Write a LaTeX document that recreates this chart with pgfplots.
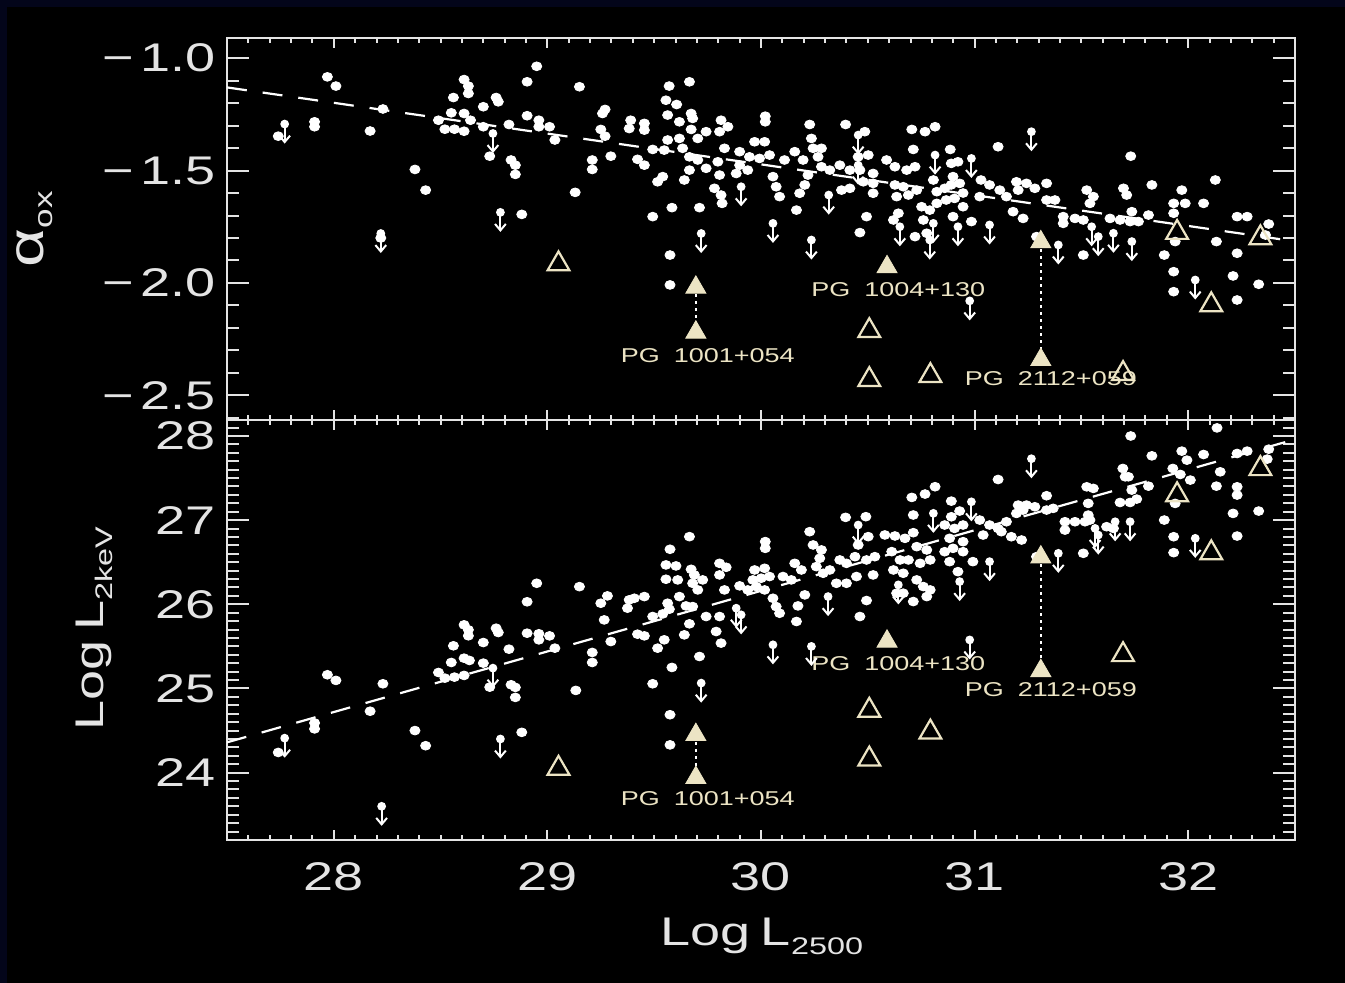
\documentclass[border=0pt]{standalone}
\usepackage{fontspec}
\usepackage{pgfplots}
\pgfplotsset{compat=1.18}
\setmainfont{Liberation Sans}
\newfontfamily\idl[FakeStretch=1.35]{Liberation Sans}
\definecolor{cream}{RGB}{236,228,196}
\definecolor{navy}{RGB}{3,5,26}
\definecolor{axgray}{RGB}{228,228,228}

\pgfdeclareplotmark{ul}{%
  \pgfpathcircle{\pgfpointorigin}{2.2pt}\pgfusepathqfill
  \pgfsetlinewidth{1pt}%
  \pgfpathmoveto{\pgfpointorigin}\pgfpathlineto{\pgfpoint{0pt}{-9pt}}\pgfusepathqstroke
  \pgfpathmoveto{\pgfpoint{-2.7pt}{-5.8pt}}\pgfpathlineto{\pgfpoint{0pt}{-9pt}}\pgfpathlineto{\pgfpoint{2.7pt}{-5.8pt}}\pgfusepathqstroke
}

\pgfplotsset{
  panel/.style={scale only axis, width=534pt, anchor=south west,
    xmin=27.5, xmax=32.5,
    axis line style={axgray, line width=1pt},
    every tick/.style={axgray, line width=1pt},
    every minor tick/.style={axgray, line width=1pt},
    every tick label/.append style={text=axgray, font=\idl\fontsize{20}{20}\selectfont},
    yticklabel style={xshift=-2pt},
    xticklabel style={yshift=-8pt}},
  xonly/.style={ytick=\empty, xtick={28,29,30,31,32},
    minor xtick={27.6,27.7,...,32.45},
    major tick length=5pt, minor tick length=2.5pt},
  yonly/.style={xtick=\empty, major tick length=11pt, minor tick length=6pt},
  dots/.style={only marks, mark=*, mark size=2.2pt, white, mark options={draw=white, fill=white, xscale=1.15}},
  uls/.style={only marks, mark=ul, white, mark options={draw=white, fill=white}},
  otri/.style={only marks, mark=triangle, mark size=6.3pt, cream, mark options={line width=1.1pt, draw=cream}},
  ftri/.style={only marks, mark=triangle*, mark size=5.8pt, cream, mark options={draw=cream, fill=cream}},
  fit/.style={white, line width=1.1pt, dash pattern=on 10pt off 8pt},
  conn/.style={white, line width=1pt, dash pattern=on 1.5pt off 2pt},
}

\begin{document}
\begin{tikzpicture}
\fill[navy] (0,0) rectangle (672.5pt,491.5pt);
\fill[black] (3.5pt,0) rectangle (672.5pt,488pt);

% ---------------- top panel: x ticks
\begin{axis}[panel, xonly, at={(113.5pt,281.5pt)}, height=191pt,
  ymin=-2.61, ymax=-0.91, xticklabels={,,,,}]
\end{axis}
% ---------------- top panel: data + y ticks
\begin{axis}[panel, yonly, at={(113.5pt,281.5pt)}, height=191pt,
  ymin=-2.61, ymax=-0.91,
  ytick={-2.5,-2,-1.5,-1},
  yticklabels={−\,2.5,−\,2.0,−\,1.5,−\,1.0},
  minor ytick={-2.6,-2.4,-2.3,-2.2,-2.1,-1.9,-1.8,-1.7,-1.6,-1.4,-1.3,-1.2,-1.1}]
\addplot[fit] coordinates {(27.5,-1.130) (32.5,-1.815)};
\addplot[dots] table {
x y
27.74 -1.347
27.97 -1.083
28.01 -1.124
27.91 -1.283
27.91 -1.305
28.17 -1.324
28.23 -1.226
28.38 -1.495
28.43 -1.587
28.22 -1.80
28.61 -1.095
28.63 -1.124
28.63 -1.157
28.56 -1.175
28.55 -1.243
28.61 -1.246
28.64 -1.276
28.49 -1.276
28.52 -1.316
28.565 -1.316
28.61 -1.325
28.70 -1.216
28.76 -1.175
28.77 -1.194
28.70 -1.305
28.73 -1.436
28.82 -1.295
28.83 -1.453
28.85 -1.476
28.85 -1.517
28.88 -1.695
28.95 -1.036
28.905 -1.105
28.905 -1.256
28.96 -1.276
28.96 -1.305
29.01 -1.305
29.035 -1.364
29.15 -1.127
29.13 -1.597
29.57 -1.124
29.665 -1.105
29.555 -1.187
29.605 -1.206
29.27 -1.228
29.258 -1.246
29.25 -1.317
29.27 -1.347
29.21 -1.453
29.21 -1.495
29.297 -1.436
29.39 -1.276
29.383 -1.313
29.454 -1.29
29.454 -1.32
29.563 -1.253
29.618 -1.283
29.673 -1.246
29.68 -1.268
29.673 -1.317
29.704 -1.357
29.743 -1.327
29.813 -1.276
29.845 -1.305
29.806 -1.327
29.563 -1.364
29.618 -1.357
29.422 -1.45
29.454 -1.476
29.493 -1.406
29.547 -1.409
29.54 -1.527
29.516 -1.55
29.633 -1.401
29.665 -1.439
29.704 -1.453
29.641 -1.542
29.665 -1.498
29.743 -1.49
29.798 -1.461
29.829 -1.401
29.806 -1.52
29.782 -1.579
29.813 -1.609
29.818 -1.646
29.493 -1.705
29.583 -1.665
29.712 -1.665
29.574 -1.876
29.574 -2.009
29.9 -1.416
29.97 -1.372
30.02 -1.258
30.02 -1.283
30.017 -1.372
29.946 -1.439
29.993 -1.446
30.04 -1.431
29.9 -1.476
29.938 -1.498
29.884 -1.513
30.056 -1.527
30.071 -1.572
30.087 -1.616
30.11 -1.453
30.158 -1.416
30.197 -1.453
30.166 -1.676
30.181 -1.601
30.205 -1.564
30.228 -1.295
30.236 -1.357
30.244 -1.401
30.283 -1.401
30.267 -1.439
30.22 -1.52
30.283 -1.483
30.322 -1.498
30.369 -1.476
30.396 -1.295
30.486 -1.327
30.455 -1.439
30.502 -1.431
30.416 -1.498
30.463 -1.498
30.377 -1.587
30.416 -1.579
30.479 -1.55
30.525 -1.557
30.525 -1.601
30.525 -1.513
30.494 -1.705
30.463 -1.776
30.588 -1.453
30.627 -1.483
30.682 -1.498
30.721 -1.483
30.706 -1.317
30.768 -1.327
30.815 -1.305
30.713 -1.406
30.807 -1.542
30.627 -1.564
30.666 -1.572
30.635 -1.616
30.69 -1.609
30.62 -1.72
30.643 -1.69
30.752 -1.661
30.79 -1.676
30.76 -1.72
30.776 -1.779
30.721 -1.794
30.823 -1.594
30.823 -1.646
30.729 -1.587
31.11 -1.394
30.886 -1.406
30.891 -1.468
30.922 -1.461
30.899 -1.527
30.86 -1.579
30.89 -1.564
30.93 -1.557
30.867 -1.631
30.906 -1.624
30.946 -1.6
30.946 -1.661
30.899 -1.705
30.985 -1.727
31.03 -1.542
31.07 -1.564
31.024 -1.616
31.118 -1.587
31.149 -1.616
31.196 -1.55
31.204 -1.587
31.243 -1.557
31.282 -1.579
31.337 -1.557
31.337 -1.631
31.376 -1.631
31.18 -1.683
31.227 -1.713
31.29 -1.794
31.415 -1.705
31.415 -1.735
31.47 -1.713
31.525 -1.587
31.556 -1.616
31.54 -1.646
31.509 -1.72
31.509 -1.876
31.634 -1.713
31.681 -1.72
31.697 -1.579
31.712 -1.609
31.736 -1.683
31.728 -1.727
31.767 -1.727
31.814 -1.698
31.731 -1.436
31.83 -1.564
31.888 -1.876
31.932 -1.646
31.932 -1.69
31.986 -1.646
31.97 -1.587
31.932 -1.95
31.932 -2.039
31.939 -1.816
32.072 -1.646
32.127 -1.542
32.132 -1.816
32.229 -1.705
32.276 -1.705
32.229 -1.868
32.21 -1.969
32.229 -2.076
32.33 -2.006
32.377 -1.738
32.362 -1.787
};
\addplot[uls] table {
x y
27.77 -1.293
28.22 -1.78
28.745 -1.335
28.78 -1.686
29.72 -1.78
29.907 -1.572
30.056 -1.735
30.236 -1.809
30.317 -1.609
30.455 -1.342
30.455 -1.476
30.815 -1.431
30.65 -1.75
30.807 -1.735
30.79 -1.809
31.266 -1.327
30.985 -1.446
30.922 -1.75
31.07 -1.742
31.392 -1.831
31.548 -1.75
31.579 -1.794
31.65 -1.779
31.736 -1.816
32.033 -1.987
30.977 -2.08
};
\addplot[conn] coordinates {(29.695,-2.02) (29.695,-2.22)};
\addplot[conn] coordinates {(31.31,-1.818) (31.31,-2.342)};
\addplot[otri] table {
x y
29.052 -1.916
30.507 -2.213
30.507 -2.431
30.793 -2.413
31.695 -2.404
31.948 -1.776
32.108 -2.098
32.338 -1.80
};
\addplot[ftri] table {
x y
29.695 -2.02
29.695 -2.22
30.59 -1.929
31.31 -1.818
31.31 -2.342
};
\node[text=cream, font=\idl\fontsize{10}{10}\selectfont] at (axis cs:29.751,-2.324) {PG\hspace{7pt}1001+054};
\node[text=cream, font=\idl\fontsize{10}{10}\selectfont] at (axis cs:30.643,-2.031) {PG\hspace{7pt}1004+130};
\node[text=cream, font=\idl\fontsize{10}{10}\selectfont] at (axis cs:31.357,-2.427) {PG\hspace{7pt}2112+059};
\end{axis}

% ---------------- bottom panel: x ticks
\begin{axis}[panel, xonly, at={(113.5pt,71.5pt)}, height=210pt,
  ymin=23.2, ymax=28.19, xticklabels={28,29,30,31,32}]
\end{axis}
% ---------------- bottom panel: data + y ticks
\begin{axis}[panel, yonly, at={(113.5pt,71.5pt)}, height=210pt,
  ymin=23.2, ymax=28.19,
  ytick={24,25,26,27,28},
  yticklabels={24,25,26,27,28},
  minor ytick={23.3,23.4,...,28.15}]
\addplot[fit] coordinates {(27.5,24.36) (32.5,27.96)};
\addplot[dots] table {
x y
27.74 24.24
27.97 25.163
28.01 25.096
27.91 24.59
27.91 24.52
28.17 24.73
28.23 25.056
28.38 24.5
28.43 24.32
28.61 25.756
28.63 25.697
28.63 25.626
28.56 25.507
28.55 25.309
28.61 25.36
28.635 25.333
28.49 25.19
28.52 25.123
28.565 25.135
28.61 25.155
28.70 25.546
28.76 25.716
28.77 25.665
28.70 25.301
28.73 25.016
28.82 25.467
28.83 25.044
28.85 25.013
28.85 24.894
28.88 24.479
28.95 26.25
28.905 26.03
28.905 25.657
28.96 25.65
28.96 25.578
29.01 25.625
29.035 25.479
29.15 26.21
29.133 24.977
29.665 26.804
29.574 26.654
29.555 26.468
29.602 26.456
29.555 26.298
29.61 26.29
29.673 26.416
29.688 26.349
29.727 26.29
29.68 26.25
29.704 26.171
29.806 26.487
29.837 26.44
29.806 26.349
29.829 26.171
29.281 26.1
29.25 26.013
29.383 26.053
29.407 26.072
29.454 26.092
29.375 25.954
29.266 25.815
29.21 25.428
29.21 25.309
29.297 25.558
29.422 25.645
29.454 25.625
29.493 25.855
29.54 25.886
29.516 25.479
29.547 25.578
29.563 26.013
29.571 25.942
29.618 26.092
29.649 25.981
29.68 25.973
29.665 25.768
29.641 25.637
29.743 25.855
29.806 25.855
29.79 25.677
29.813 25.539
29.712 25.38
29.583 25.25
29.493 25.056
29.574 24.688
29.574 24.33
29.9 26.219
29.938 26.171
29.97 26.408
30.017 26.428
30.02 26.745
30.02 26.665
29.962 26.29
30.001 26.31
30.04 26.33
29.978 26.211
30.017 26.171
30.056 26.072
30.071 25.973
30.087 25.894
30.103 26.33
30.142 26.29
30.158 26.487
30.189 26.408
30.205 26.112
30.173 25.981
30.166 25.796
30.228 26.863
30.244 26.705
30.283 26.646
30.275 26.547
30.259 26.448
30.291 26.369
30.322 26.408
30.369 26.527
30.4 26.487
30.353 26.25
30.4 26.25
30.396 27.033
30.491 27.041
30.455 26.705
30.502 26.804
30.44 26.566
30.494 26.527
30.533 26.566
30.447 26.33
30.525 26.349
30.494 26.045
30.463 25.855
30.58 26.824
30.627 26.812
30.674 26.784
30.713 26.851
30.706 27.27
30.768 27.31
30.815 27.397
30.713 27.061
30.612 26.626
30.651 26.527
30.69 26.527
30.729 26.685
30.776 26.646
30.62 26.408
30.666 26.369
30.745 26.487
30.792 26.527
30.666 26.132
30.729 26.29
30.76 26.211
30.792 26.171
30.776 26.092
30.635 26.132
30.713 26.033
31.731 28.0
31.11 27.483
30.891 27.226
30.93 27.108
30.891 27.04
30.86 26.942
30.906 26.902
30.946 26.942
30.883 26.784
30.946 26.744
30.86 26.625
30.899 26.665
30.883 26.507
30.922 26.388
30.946 26.625
30.992 26.507
31.024 27.001
31.07 26.942
31.11 26.902
31.149 26.981
31.04 26.823
31.125 26.863
31.172 26.803
31.22 26.764
31.204 27.179
31.243 27.179
31.282 27.159
31.196 27.08
31.227 27.12
31.337 27.29
31.337 27.12
31.368 27.14
31.29 26.566
31.423 26.981
31.47 26.981
31.517 26.981
31.423 26.882
31.532 27.06
31.54 27.001
31.525 27.396
31.556 27.377
31.532 27.199
31.618 26.922
31.65 26.902
31.681 27.21
31.728 27.21
31.759 27.25
31.736 27.357
31.694 27.614
31.705 27.515
31.72 27.515
31.814 27.404
31.83 27.764
31.509 26.606
31.888 27.001
31.932 26.803
31.932 26.614
31.939 27.199
31.97 27.82
31.994 27.713
32.072 27.78
31.928 27.614
31.963 27.543
32.01 27.476
32.135 28.096
32.15 27.574
32.132 27.404
32.229 27.792
32.276 27.82
32.229 27.396
32.229 27.298
32.21 27.08
32.229 26.811
32.33 27.108
32.377 27.843
32.37 27.725
};
\addplot[uls] table {
x y
27.77 24.41
28.224 23.60
28.745 25.242
28.78 24.40
29.72 25.064
29.884 25.954
29.907 25.875
30.056 25.519
30.314 26.092
30.236 25.5
30.455 26.942
30.807 27.081
30.643 26.231
31.266 27.73
30.985 27.218
30.93 26.27
31.07 26.507
31.392 26.606
31.564 26.902
31.579 26.823
31.658 26.981
31.728 26.981
32.033 26.784
30.977 25.577
};
\addplot[conn] coordinates {(29.695,24.45) (29.695,23.94)};
\addplot[conn] coordinates {(31.31,26.56) (31.31,25.21)};
\addplot[otri] table {
x y
29.052 24.05
30.507 24.74
30.507 24.16
30.793 24.48
31.695 25.40
31.948 27.30
32.108 26.61
32.338 27.61
};
\addplot[ftri] table {
x y
29.695 24.45
29.695 23.94
30.59 25.56
31.31 26.56
31.31 25.21
};
\node[text=cream, font=\idl\fontsize{10}{10}\selectfont] at (axis cs:30.643,25.293) {PG\hspace{7pt}1004+130};
\node[text=cream, font=\idl\fontsize{10}{10}\selectfont] at (axis cs:31.357,24.985) {PG\hspace{7pt}2112+059};
\node[text=cream, font=\idl\fontsize{10}{10}\selectfont] at (axis cs:29.751,23.69) {PG\hspace{7pt}1001+054};
\end{axis}

% ---------------- axis titles
\node[anchor=base, text=axgray, font=\idl\fontsize{20}{20}\selectfont] at (381pt,18.5pt)
  {Log\hspace{5pt}L\raisebox{-4.5pt}{\fontsize{12}{12}\selectfont 2500}};
\node[rotate=90, anchor=base, text=axgray, font=\idl\fontsize{20}{20}\selectfont] at (21.5pt,377pt)
  {{\fontsize{25}{25}\selectfont α}\raisebox{-4.5pt}{\fontsize{13}{13}\selectfont ox}};
\node[rotate=90, anchor=base, text=axgray, font=\idl\fontsize{20}{20}\selectfont] at (51.5pt,177pt)
  {Log\hspace{5pt}L\raisebox{-4.5pt}{\fontsize{12}{12}\selectfont 2keV}};

\pgfresetboundingbox
\useasboundingbox (0,0) rectangle (672.5pt,491.5pt);
\end{tikzpicture}
\end{document}
